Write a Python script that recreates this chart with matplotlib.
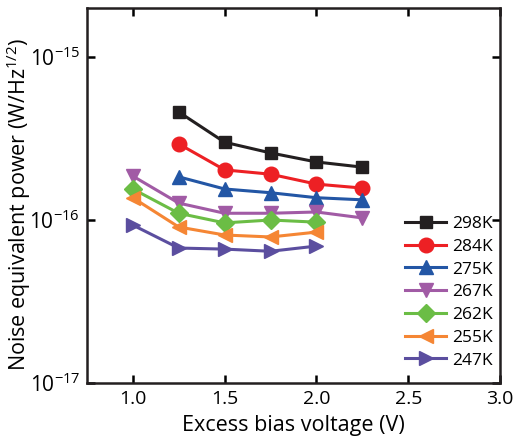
import numpy as np
import matplotlib
matplotlib.use("Agg")
import matplotlib.pyplot as plt
from matplotlib.ticker import NullLocator, FixedLocator

# =============================
# DATOS
# =============================

bias_hi = [1.25, 1.5, 1.75, 2.0, 2.25]
bias_lo = [1.0, 1.25, 1.5, 1.75, 2.0]
bias_267 = [1.0, 1.25, 1.5, 1.75, 2.0, 2.25]

nep_298 = [4.6e-16, 3.0e-16, 2.58e-16, 2.27e-16, 2.11e-16]
nep_284 = [2.93e-16, 2.03e-16, 1.91e-16, 1.66e-16, 1.57e-16]
nep_275 = [1.84e-16, 1.55e-16, 1.47e-16, 1.37e-16, 1.33e-16]
nep_267 = [1.86e-16, 1.27e-16, 1.10e-16, 1.10e-16, 1.12e-16, 1.03e-16]
nep_262 = [1.55e-16, 1.10e-16, 9.6e-17, 1.0e-16, 9.7e-17]
nep_255 = [1.37e-16, 9.06e-17, 8.09e-17, 7.87e-17, 8.43e-17]
nep_247 = [9.31e-17, 6.73e-17, 6.63e-17, 6.43e-17, 6.92e-17]

labels = ["298K", "284K", "275K", "267K", "262K", "255K", "247K"]
xs = [bias_hi, bias_hi, bias_hi, bias_267, bias_lo, bias_lo, bias_lo]
ys = [nep_298, nep_284, nep_275, nep_267, nep_262, nep_255, nep_247]

yticks = [1e-17, 1e-16, 1e-15]
xticks = [1.0, 1.5, 2.0, 2.5, 3.0]

colors = ["#231F20", "#ED2024", "#2356A5", "#A15BA5", "#6BBD45", "#F58634", "#5B4E9F"]
markers = ["s", "o", "^", "v", "D", "<", ">"]
msizes = [9, 10.5, 10.5, 10.5, 9, 10.5, 10.5]

# =============================
# GRAFICO
# =============================

plt.rcParams["font.family"] = ["Open Sans", "DejaVu Sans"]
plt.rcParams["mathtext.fontset"] = "custom"
plt.rcParams["mathtext.rm"] = "Open Sans"
plt.rcParams["mathtext.it"] = "Open Sans"

fig = plt.figure(figsize=(5.14, 4.40), dpi=100)
ax = fig.add_axes([0.169, 0.1295, 0.804, 0.8525])

for x, y, c, m, ms, lab in zip(xs, ys, colors, markers, msizes, labels):
    ax.plot(x, y, color=c, marker=m, markersize=ms, linewidth=2.2, label=lab,
            markeredgecolor=c)

ax.set_yscale("log")
ax.set_xlim(0.75, 3.0)
ax.set_ylim(1e-17, 2.0e-15)
ax.xaxis.set_major_locator(FixedLocator(xticks))
ax.yaxis.set_major_locator(FixedLocator(yticks))
ax.yaxis.set_minor_locator(NullLocator())
ax.set_xticklabels(["%.1f" % v for v in xticks])
ax.set_yticklabels([r"$10^{%d}$" % round(np.log10(v)) for v in yticks])

ax.tick_params(which="major", direction="in", length=6, width=1.8,
               top=True, right=True, labelsize=14, pad=5)
ax.tick_params(axis="y", labelsize=15)
for s in ax.spines.values():
    s.set_linewidth(1.8)
    s.set_color("#231F20")

ax.set_xlabel("Excess bias voltage (V)", fontsize=15.5, labelpad=5)
ax.set_ylabel("Noise equivalent power (W/Hz$^{1/2}$)", fontsize=15.5)
ax.yaxis.set_label_coords(-0.131, 0.477)

leg = ax.legend(loc="lower right", frameon=False, fontsize=12.5,
                bbox_to_anchor=(1.0, 0.02), handlelength=2.4,
                labelspacing=0.38, handletextpad=0.35, borderaxespad=0.0)

fig.savefig("out.png", dpi=100)
